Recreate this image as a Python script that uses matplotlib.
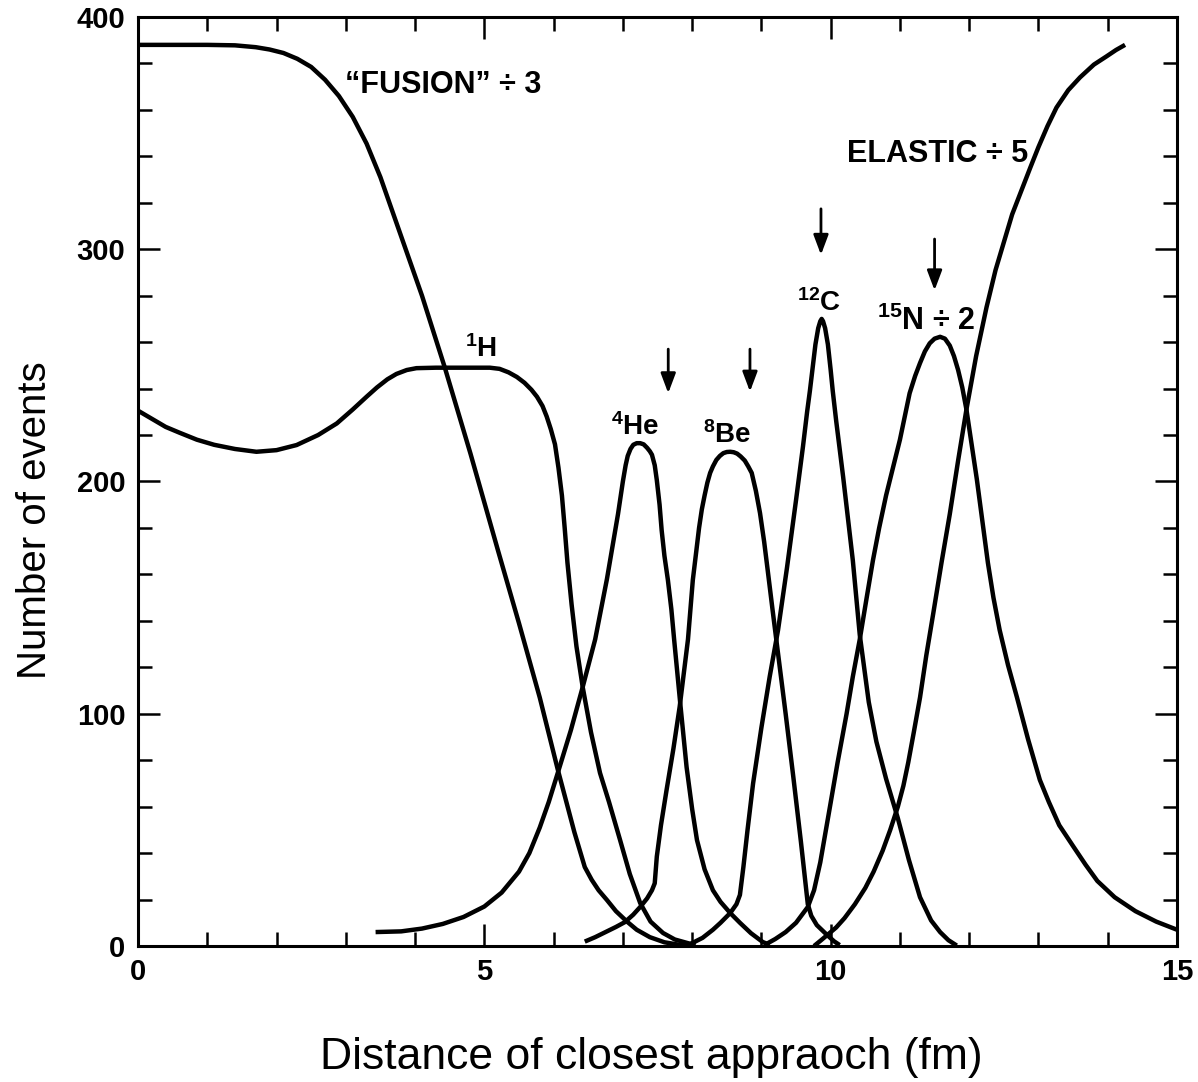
import matplotlib
matplotlib.use("Agg")
import matplotlib.pyplot as plt
from matplotlib.ticker import MultipleLocator

plt.rcParams["font.family"] = ["Liberation Sans", "DejaVu Sans"]
plt.rcParams["mathtext.fontset"] = "custom"
plt.rcParams["mathtext.rm"] = "Liberation Sans:bold"
plt.rcParams["mathtext.it"] = "Liberation Sans:bold"
plt.rcParams["mathtext.bf"] = "Liberation Sans:bold"

# ---- yields versus distance of closest approach (fm) ----
fusion_x = [0.0, 0.5, 1.0, 1.4, 1.7, 1.9, 2.1, 2.3, 2.5, 2.7, 2.9, 3.1, 3.3, 3.5, 3.7, 3.9,
            4.1, 4.43, 4.8, 5.2, 5.5, 5.8, 6.06, 6.3, 6.45, 6.55, 6.65, 6.77, 6.9, 7.06,
            7.2, 7.39, 7.6, 7.8, 7.95]
fusion_y = [388, 388, 388, 387.8, 387, 386, 384.5, 382, 378.5, 373, 366, 357, 345.5, 331, 314, 297,
            280, 249, 212, 170, 139, 107, 76, 49, 34, 28.5, 24, 19.8, 15, 10.5,
            7, 3.8, 1.6, 0.6, 0.2]

h1_x = [0.0, 0.2, 0.4, 0.6, 0.85, 1.1, 1.4, 1.71, 2.0, 2.29, 2.6, 2.87, 3.1, 3.3, 3.45,
        3.6, 3.73, 3.88, 4.02, 4.3, 4.7, 5.08, 5.22, 5.35, 5.47, 5.58, 5.68, 5.76, 5.84,
        5.9, 5.96, 6.02, 6.07, 6.12, 6.16, 6.2, 6.26, 6.33, 6.42, 6.54, 6.67, 6.8, 6.96,
        7.1, 7.25, 7.4, 7.58, 7.75, 7.93, 8.05]
h1_y = [230.5, 227, 223.5, 221, 218, 215.8, 214, 212.8, 213.5, 215.7, 220, 225, 231, 236.5, 240.5,
        244, 246.3, 248, 248.8, 249, 249, 249, 248.5, 247, 245, 242.5, 239.5, 236.5, 232.5,
        228, 222.5, 216, 206, 194, 180, 165, 147, 129, 111.5, 92, 74.5, 62, 45.6,
        31, 18.5, 10.5, 5.6, 2.8, 1.3, 0.3]

he4_x = [3.43, 3.8, 4.1, 4.4, 4.7, 5.0, 5.25, 5.5, 5.65, 5.8, 5.93, 6.06, 6.25, 6.42, 6.6,
         6.77, 6.85, 6.93, 7.0, 7.04, 7.07, 7.11, 7.15, 7.2, 7.25, 7.3, 7.35, 7.39, 7.42,
         7.46, 7.49, 7.53, 7.56, 7.6, 7.65, 7.7, 7.74, 7.83, 7.92, 8.0, 8.07, 8.18, 8.3,
         8.41, 8.55, 8.69, 8.85, 9.02, 9.12]
he4_y = [6, 6.3, 7.5, 9.5, 12.5, 17, 23, 32, 40, 51, 62, 74.5, 93, 111.5, 132,
         158, 172, 186, 200, 207, 211, 214, 215.8, 216.5, 216.5, 216, 214.5, 213, 211.5,
         207, 200.6, 190, 179, 168, 157.6, 145, 132, 104, 77, 59, 45.6, 33, 24,
         19, 14.2, 10, 5.5, 1.7, 0.5]

be8_x = [6.45, 6.6, 6.75, 6.9, 7.03, 7.15, 7.25, 7.35, 7.42, 7.46, 7.49, 7.55, 7.63, 7.73,
         7.82, 7.94, 8.01, 8.06, 8.1, 8.14, 8.18, 8.22, 8.26, 8.3, 8.35, 8.4, 8.45, 8.5,
         8.55, 8.6, 8.65, 8.7, 8.76, 8.81, 8.86, 8.92, 8.98, 9.04, 9.09, 9.16, 9.24, 9.35,
         9.46, 9.57, 9.67, 9.72, 9.8, 9.95, 10.05, 10.13]
be8_y = [1.9, 3.8, 6, 8.2, 10.3, 13.5, 16.8, 20.5, 24, 27, 38.5, 52, 67, 85,
         103, 132, 157.6, 170, 180, 188, 194, 199.5, 203.7, 206.5, 209.3, 211, 212.2, 212.7,
         212.8, 212.6, 212, 210.8, 209, 206.5, 203.7, 196, 186.4, 174, 162, 145, 126, 100,
         73, 45, 18, 13, 9, 4.7, 2, 0.4]

c12_x = [7.95, 8.15, 8.3, 8.41, 8.55, 8.64, 8.69, 8.74, 8.8, 8.88, 9.0, 9.12, 9.24, 9.37,
         9.5, 9.6, 9.66, 9.7, 9.74, 9.78, 9.82, 9.85, 9.87, 9.89, 9.92, 9.96, 10.0, 10.03,
         10.08, 10.18, 10.32, 10.42, 10.55, 10.66, 10.8, 10.97, 11.13, 11.29, 11.45, 11.58,
         11.7, 11.82]
c12_y = [0.5, 3.5, 7, 10, 14.2, 18, 22, 34, 50, 70, 94, 116, 136, 163,
         192, 215, 230, 239, 249, 259, 266, 269, 270, 269, 266, 259, 248, 239,
         226, 202, 166, 134, 105, 88, 72, 55, 37, 21, 11, 6,
         2.5, 0.2]

n15_x = [9.08, 9.2, 9.35, 9.5, 9.67, 9.76, 9.85, 9.99, 10.1, 10.23, 10.32, 10.42, 10.52,
         10.61, 10.7, 10.8, 10.9, 11.0, 11.07, 11.14, 11.22, 11.29, 11.36, 11.43, 11.5,
         11.58, 11.65, 11.72, 11.78, 11.84, 11.9, 11.96, 12.03, 12.11, 12.19, 12.27, 12.35,
         12.44, 12.56, 12.69, 12.85, 13.02, 13.15, 13.3, 13.5, 13.68, 13.85, 14.1, 14.4,
         14.7, 15.0]
n15_y = [1, 3, 6, 10, 16.8, 24, 36, 60, 79, 100, 116, 132, 150,
         166, 180, 194, 206, 218, 228, 238, 245.5, 251, 256, 259.5, 261.5,
         262.3, 261.5, 258.5, 254, 248, 240.5, 231, 217, 201, 183, 165, 150,
         136, 121, 107, 89, 71.5, 62, 52, 43, 35, 28, 21, 15,
         10.5, 7]

elastic_x = [9.76, 9.85, 9.95, 10.08, 10.2, 10.35, 10.5, 10.62, 10.75, 10.86, 10.97, 11.05,
             11.12, 11.2, 11.29, 11.38, 11.48, 11.6, 11.72, 11.84, 11.96, 12.1, 12.25, 12.38,
             12.5, 12.62, 12.75, 12.88, 13.0, 13.13, 13.26, 13.43, 13.6, 13.8, 13.98, 14.12,
             14.25]
elastic_y = [0, 2.2, 4.7, 8, 12, 18, 25, 32, 41, 50, 60, 69,
             79, 92, 107, 125, 143, 165, 186, 209, 231, 254, 275, 291,
             303, 315, 325, 335, 344, 353, 361, 368.5, 374, 379.5, 383, 385.8,
             388]

curves = [(fusion_x, fusion_y), (h1_x, h1_y), (he4_x, he4_y), (be8_x, be8_y),
          (c12_x, c12_y), (n15_x, n15_y), (elastic_x, elastic_y)]

# curve labels: text, left x, baseline y, size
label_texts = ["\u201cFUSION\u201d \u00f7 3", "ELASTIC \u00f7 5", r"$^{1}$H", r"$^{4}$He",
               r"$^{8}$Be", r"$^{12}$C", r"$^{15}$N" + " \u00f7 2"]
label_x = [2.99, 10.23, 4.72, 6.83, 8.16, 9.51, 10.67]
label_y = [367.3, 337.7, 253.6, 220.0, 216.6, 273.5, 265.4]
label_size = [22, 22, 20, 20, 20, 20, 22]

# expected-position arrows: x, tail y, tip y
arrow_x = [7.655, 8.835, 9.86, 11.5]
arrow_top = [257, 257, 317.4, 304.4]
arrow_tip = [238, 238.7, 297.6, 282.3]

W, H = 1198, 1082
fig = plt.figure(figsize=(W / 100, H / 100), dpi=100)
ax = fig.add_axes([138 / W, 1 - 946 / H, (1177 - 138) / W, (946 - 17) / H])

for xs, ys in curves:
    ax.plot(xs, ys, color="black", lw=3.2, solid_joinstyle="round", solid_capstyle="butt")

for t, x, y, s in zip(label_texts, label_x, label_y, label_size):
    ax.text(x, y, t, fontsize=s, fontweight="bold", ha="left", va="baseline")

for x, y0, y1 in zip(arrow_x, arrow_top, arrow_tip):
    ax.annotate("", xy=(x, y1), xytext=(x, y0),
                arrowprops=dict(arrowstyle="-|>,head_length=1.2,head_width=0.45",
                                lw=2.0, color="black", shrinkA=0, shrinkB=0,
                                mutation_scale=10))

ax.set_xlim(0, 15)
ax.set_ylim(0, 400)
ax.xaxis.set_major_locator(MultipleLocator(5))
ax.xaxis.set_minor_locator(MultipleLocator(1))
ax.yaxis.set_major_locator(MultipleLocator(100))
ax.yaxis.set_minor_locator(MultipleLocator(20))
ax.tick_params(which="both", direction="in", top=True, right=True, width=1.8,
               labelsize=21)
ax.tick_params(which="major", length=16)
ax.tick_params(which="minor", length=10)
ax.tick_params(axis="y", pad=9)
ax.tick_params(axis="x", pad=9)
for lab in ax.get_xticklabels() + ax.get_yticklabels():
    lab.set_fontweight("bold")
for sp in ax.spines.values():
    sp.set_linewidth(2.2)

ax.set_xlabel("Distance of closest appraoch (fm)", fontsize=32, va="center")
ax.set_ylabel("Number of events", fontsize=29, va="center")
ax.xaxis.set_label_coords((651 - 138) / 1039, (946 - 1057) / 929)
ax.yaxis.set_label_coords((35 - 138) / 1039, (946 - 520) / 929)

fig.savefig("out.png", dpi=100)
